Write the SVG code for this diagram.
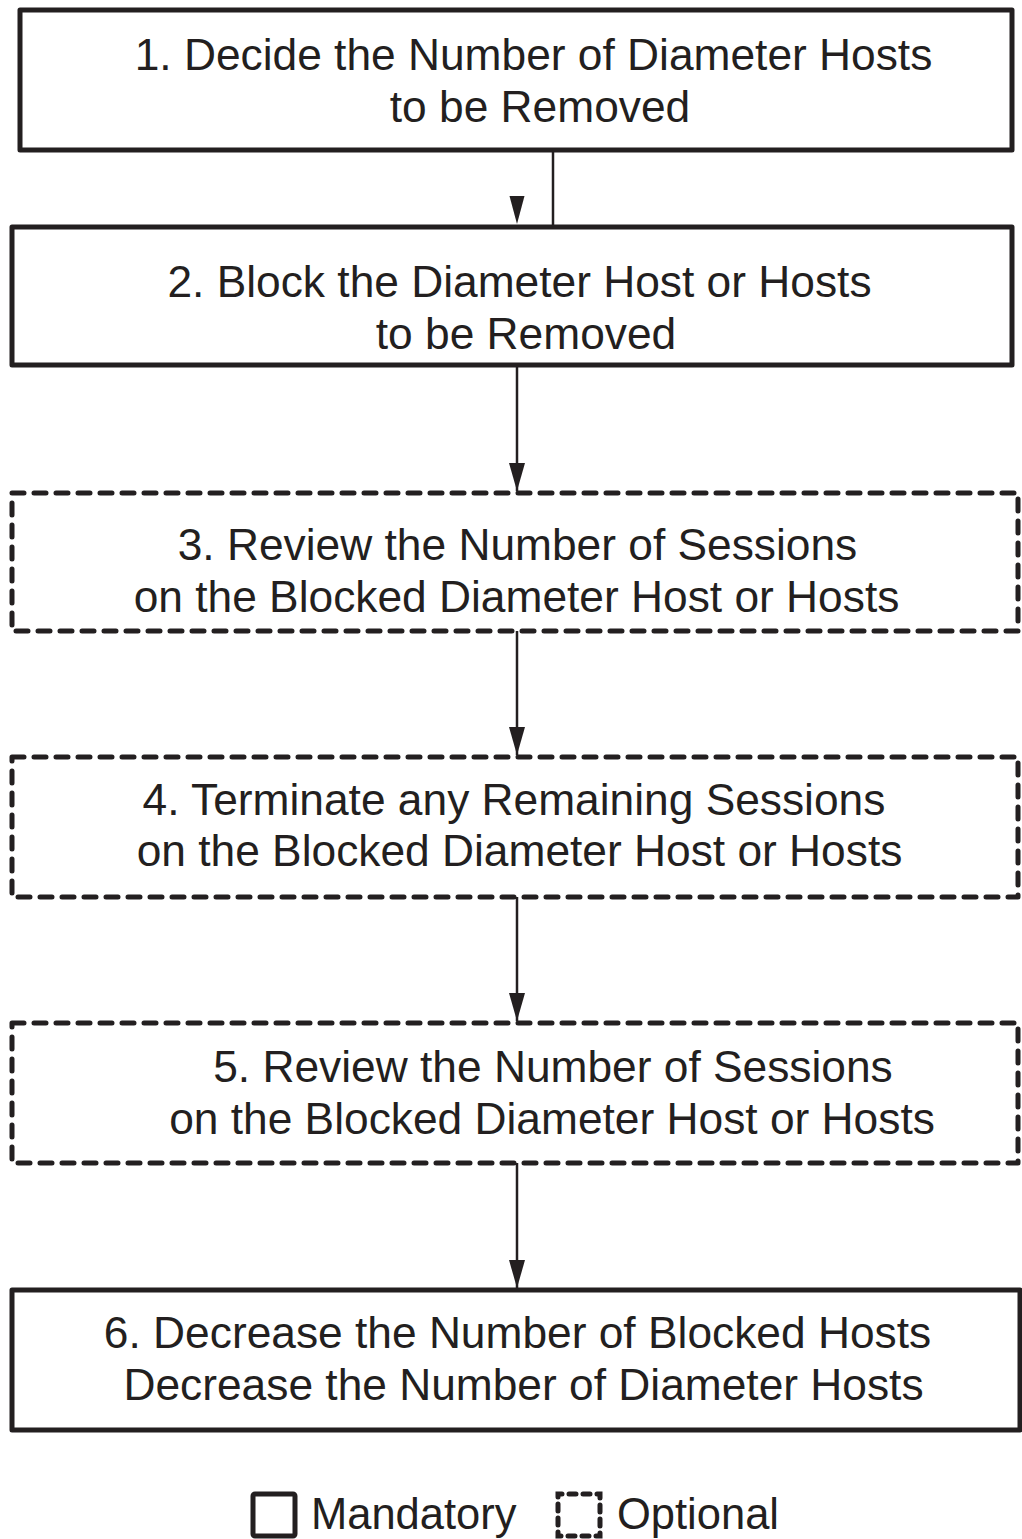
<svg xmlns="http://www.w3.org/2000/svg" width="1022" height="1539" viewBox="0 0 1022 1539">
<style>
.box{fill:#fff;stroke:#231f20;stroke-width:5;stroke-linejoin:round}
.dash{fill:#fff;stroke:#231f20;stroke-width:5;stroke-dasharray:12 10;stroke-linecap:round;stroke-linejoin:round}
.t{font-family:"Liberation Sans",Arial,sans-serif;font-size:44.3px;fill:#231f20;text-anchor:middle}
.lt{font-family:"Liberation Sans",Arial,sans-serif;font-size:43.5px;fill:#231f20}
.c{stroke:#231f20;stroke-width:2.5;fill:none}
.ah{fill:#231f20}
</style>
<defs>
<marker id="arr" viewBox="0 0 28 16" refX="28" refY="8" markerWidth="28" markerHeight="16" markerUnits="userSpaceOnUse" orient="auto">
<path d="M0,0 L28,8 L0,16 z" fill="#231f20"/>
</marker>
</defs>
<rect width="1022" height="1539" fill="#fff"/>
<g id="connectors">
<line class="c" x1="553" y1="150" x2="553" y2="227"/>
<polygon class="ah" points="509.5,196 524.5,196 517,224"/>
<line class="c" x1="517" y1="365" x2="517" y2="491" marker-end="url(#arr)"/>
<line class="c" x1="517" y1="631" x2="517" y2="755" marker-end="url(#arr)"/>
<line class="c" x1="517" y1="897" x2="517" y2="1021" marker-end="url(#arr)"/>
<line class="c" x1="517" y1="1163" x2="517" y2="1288" marker-end="url(#arr)"/>
</g>
<g id="node1">
<rect class="box" x="20" y="10" width="992" height="140"/>
<text class="t" x="533.5" y="70">1. Decide the Number of Diameter Hosts</text>
<text class="t" x="540" y="122">to be Removed</text>
</g>
<g id="node2">
<rect class="box" x="12" y="227" width="1000" height="138"/>
<text class="t" x="519.5" y="297">2. Block the Diameter Host or Hosts</text>
<text class="t" x="526" y="349">to be Removed</text>
</g>
<g id="node3">
<rect class="dash" x="12" y="493" width="1006" height="138"/>
<text class="t" x="517.5" y="560">3. Review the Number of Sessions</text>
<text class="t" x="516.5" y="612">on the Blocked Diameter Host or Hosts</text>
</g>
<g id="node4">
<rect class="dash" x="12" y="757" width="1006" height="140"/>
<text class="t" x="514" y="815">4. Terminate any Remaining Sessions</text>
<text class="t" x="519.5" y="866">on the Blocked Diameter Host or Hosts</text>
</g>
<g id="node5">
<rect class="dash" x="12" y="1023" width="1006" height="140"/>
<text class="t" x="553" y="1082">5. Review the Number of Sessions</text>
<text class="t" x="552" y="1134">on the Blocked Diameter Host or Hosts</text>
</g>
<g id="node6">
<rect class="box" x="12" y="1290" width="1008" height="140"/>
<text class="t" x="517.5" y="1348">6. Decrease the Number of Blocked Hosts</text>
<text class="t" x="523.5" y="1400">Decrease the Number of Diameter Hosts</text>
</g>
<g id="legend">
<rect class="box" x="253" y="1494" width="42" height="42" rx="2"/>
<text class="lt" x="311" y="1529">Mandatory</text>
<rect x="558" y="1494" width="42" height="42" fill="#fff" stroke="#231f20" stroke-width="5" stroke-dasharray="7 7" stroke-dashoffset="3" stroke-linecap="round"/>
<text class="lt" x="617" y="1529">Optional</text>
</g>
</svg>
